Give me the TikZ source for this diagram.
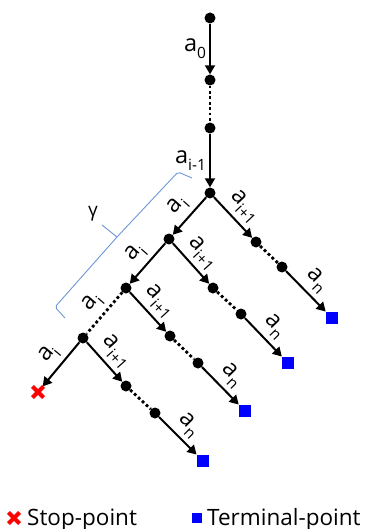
\documentclass[tikz,border=0pt]{standalone}
\usepackage{fontspec}
\setmainfont{Open Sans}
\usetikzlibrary{arrows.meta,shapes.misc}
\definecolor{bracecol}{RGB}{110,150,215}
\newcommand\lsub[1]{\raisebox{-0.55ex}{\fontsize{15.5pt}{15.5pt}\selectfont #1}}
\newcommand\alab[1]{a\lsub{#1}}
\begin{document}
\begin{tikzpicture}[x=1pt,y=-1pt,
  dot/.style={circle,fill=black,inner sep=0pt,minimum size=11pt},
  term/.style={rectangle,fill=blue,inner sep=0pt,minimum size=12.5pt},
  stopx/.style={cross out,draw=red,line width=4.2pt,inner sep=0pt,minimum size=7pt},
  arr/.style={line width=2pt,-{Triangle[length=9pt,width=10pt]}},
  dotl/.style={line width=2.8pt,dash pattern=on 2.8pt off 2.6pt},
  lab/.style={font=\fontsize{23.5pt}{23.5pt}\selectfont,inner sep=2pt},
  sl/.style={midway,sloped,above=3.5pt,lab,inner sep=1pt}]
\useasboundingbox (0,0) rectangle (366,529);
% spine
\node[dot] (n0) at (210,18) {};
\node[dot] (n1) at (210,80) {};
\node[dot] (n2) at (210,128) {};
\node[dot] (b0) at (210,193) {};
% left branch points
\node[dot] (b1) at (169,239) {};
\node[dot] (b2) at (126,288) {};
\node[dot] (b3) at (83,338) {};
\node[stopx] (stop) at (38,392) {};
% right chains
\node[dot] (r0a) at (256,242) {};
\node[dot] (r0b) at (282,267) {};
\node[term] (t0) at (332,318) {};
\node[dot] (r1a) at (213,288) {};
\node[dot] (r1b) at (241,314) {};
\node[term] (t1) at (288,363) {};
\node[dot] (r2a) at (170,336) {};
\node[dot] (r2b) at (198,363) {};
\node[term] (t2) at (245,411) {};
\node[dot] (r3a) at (126,386) {};
\node[dot] (r3b) at (155,413) {};
\node[term] (t3) at (203,461) {};
% spine edges
\draw[arr] (n0) -- node[midway,left,lab,xshift=-1pt]{\alab{0}} (n1);
\draw[dotl] (n1) -- (n2);
\draw[arr] (n2) -- node[midway,left,lab,xshift=-1pt]{\alab{i-1}} (b0);
% left edges
\draw[arr] (b0) -- node[sl]{\alab{i}} (b1);
\draw[arr] (b1) -- node[sl]{\alab{i}} (b2);
\draw[dotl] (b2) -- node[sl]{\alab{i}} (b3);
\draw[arr] (b3) -- node[sl]{\alab{i}} (stop);
% right chains
\draw[arr] (b0) -- node[sl]{\alab{i+1}} (r0a);
\draw[dotl] (r0a) -- (r0b);
\draw[arr] (r0b) -- node[sl]{\alab{n}} (t0);
\draw[arr] (b1) -- node[sl]{\alab{i+1}} (r1a);
\draw[dotl] (r1a) -- (r1b);
\draw[arr] (r1b) -- node[sl]{\alab{n}} (t1);
\draw[arr] (b2) -- node[sl]{\alab{i+1}} (r2a);
\draw[dotl] (r2a) -- (r2b);
\draw[arr] (r2b) -- node[sl]{\alab{n}} (t2);
\draw[arr] (b3) -- node[sl]{\alab{i+1}} (r3a);
\draw[dotl] (r3a) -- (r3b);
\draw[arr] (r3b) -- node[sl]{\alab{n}} (t3);
% brace
\coordinate (br1) at (65,318);
\coordinate (br2) at (192,178);
\coordinate (brm) at (117,237);
\coordinate (brt) at (102,225);
\draw[bracecol,line width=0.9pt,rounded corners=2pt] (br1) -- (55,307) -- (brm) -- (178,172) -- (br2);
\draw[bracecol,line width=0.9pt] (brm) -- (brt);
\node[font=\fontsize{19pt}{19pt}\selectfont] (gam) at (93,214) {γ};
% legend
\node[stopx] (lx) at (14,518) {};
\node[anchor=base west,font=\fontsize{22.5pt}{22.5pt}\selectfont,inner sep=0pt] (lxt) at (27,525) {Stop-point};
\node[term,minimum size=10pt] (lt) at (197,518) {};
\node[anchor=base west,font=\fontsize{22.5pt}{22.5pt}\selectfont,inner sep=0pt] (ltt) at (207,525) {Terminal-point};
\end{tikzpicture}
\end{document}
